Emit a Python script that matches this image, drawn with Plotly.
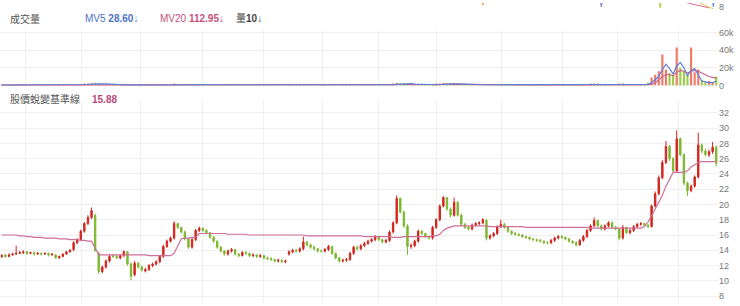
import plotly.graph_objects as go

# ---- daily OHLC (price) ----
close = [
    13.3, 13.2, 13.4, 13.5, 13.6, 13.7, 13.8, 13.6, 13.7, 13.5,
    13.6, 13.5, 13.6, 13.4, 13.5, 13.0, 13.2, 13.5, 13.8, 14.0,
    15.0, 15.4, 16.5, 17.5, 18.3, 19.2, 14.0, 11.2, 11.8, 12.6,
    13.2, 13.2, 13.0, 13.3, 13.8, 12.2, 10.6, 12.3, 11.8, 11.4,
    11.5, 12.0, 12.2, 12.5, 13.2, 14.5, 15.2, 15.6, 17.5, 17.0,
    16.4, 15.5, 14.4, 15.4, 16.6, 16.9, 16.6, 16.3, 15.7, 15.2,
    14.4, 13.9, 13.5, 13.9, 14.1, 13.5, 13.3, 13.7, 13.6, 13.3,
    13.4, 13.2, 13.3, 13.0, 12.9, 12.8, 12.6, 12.7, 12.5, 12.6,
    13.8, 14.0, 13.9, 14.2, 15.1, 14.7, 14.4, 14.2, 13.9, 13.9,
    14.1, 14.5, 13.6, 13.0, 12.6, 12.7, 12.8, 13.6, 14.4, 14.2,
    14.6, 14.9, 15.2, 15.4, 15.8, 15.4, 15.1, 15.3, 16.4, 17.6,
    20.8, 19.0, 17.2, 14.5, 14.6, 15.2, 16.5, 16.2, 15.8, 15.6,
    17.0, 18.0, 19.8, 20.9, 19.4, 18.6, 20.3, 18.6, 17.4, 17.0,
    16.8, 17.3, 17.5, 17.6, 18.0, 15.6, 15.9, 16.2, 17.1, 17.4,
    17.0, 16.5, 16.2, 16.1, 16.0, 15.8, 15.7, 15.5, 15.4, 15.3,
    15.2, 15.0, 15.0, 15.3, 15.6, 15.8, 15.7, 15.5, 15.2, 15.0,
    14.7, 15.3, 15.8, 16.6, 17.2, 17.9, 17.2, 16.8, 17.2, 17.6,
    17.0, 16.8, 15.6, 17.0, 16.3, 16.6, 17.1, 17.4, 17.5, 17.3,
    17.1, 19.8, 21.4, 23.5, 25.5, 27.6, 26.0, 24.4, 28.6, 26.5,
    22.8, 21.8, 22.4, 23.6, 27.8, 27.0, 26.5, 26.9, 27.5, 25.4,
]
open_ = [
    13.2, 13.4, 13.2, 13.4, 13.5, 13.6, 13.7, 13.8, 13.6, 13.7,
    13.5, 13.6, 13.5, 13.6, 13.4, 13.4, 13.0, 13.2, 13.5, 13.8,
    14.1, 15.0, 15.4, 16.5, 17.5, 18.3, 18.6, 13.6, 11.2, 11.8,
    12.6, 13.3, 13.2, 13.0, 13.3, 13.8, 12.2, 10.8, 12.3, 11.8,
    11.3, 11.5, 12.0, 12.2, 12.5, 13.2, 14.5, 15.2, 15.6, 17.5,
    17.0, 16.4, 15.5, 14.4, 15.4, 16.6, 16.9, 16.6, 16.3, 15.7,
    15.2, 14.4, 13.9, 13.5, 13.9, 14.1, 13.5, 13.3, 13.7, 13.6,
    13.3, 13.4, 13.2, 13.3, 13.0, 12.9, 12.8, 12.6, 12.7, 12.5,
    13.5, 13.8, 14.0, 13.9, 14.2, 15.1, 14.7, 14.4, 14.2, 13.9,
    13.9, 14.1, 14.5, 13.6, 13.0, 12.6, 12.7, 12.8, 13.6, 14.4,
    14.2, 14.6, 14.9, 15.2, 15.4, 15.8, 15.4, 15.1, 15.3, 16.4,
    17.6, 20.8, 19.0, 17.2, 14.5, 14.6, 15.2, 16.5, 16.2, 15.8,
    15.6, 17.0, 18.0, 19.8, 20.9, 19.4, 18.6, 20.3, 18.6, 17.4,
    17.0, 16.8, 17.3, 17.5, 17.6, 17.9, 15.6, 15.9, 16.2, 17.1,
    17.4, 17.0, 16.5, 16.2, 16.1, 16.0, 15.8, 15.7, 15.5, 15.4,
    15.3, 15.2, 15.0, 15.0, 15.3, 15.6, 15.8, 15.7, 15.5, 15.2,
    15.0, 14.7, 15.3, 15.8, 16.6, 17.2, 17.9, 17.2, 16.8, 17.2,
    17.6, 17.0, 16.8, 15.6, 17.0, 16.3, 16.6, 17.1, 17.4, 17.5,
    17.3, 17.1, 19.8, 21.4, 23.5, 25.5, 27.6, 26.0, 24.4, 28.6,
    26.5, 22.8, 21.8, 22.4, 23.6, 27.8, 27.0, 26.5, 26.9, 27.5,
]
high = [
    13.5, 13.5, 13.6, 13.7, 14.6, 13.9, 14.0, 13.9, 13.8, 13.8,
    13.8, 13.7, 13.7, 13.7, 13.6, 13.5, 13.3, 13.6, 13.9, 14.2,
    15.2, 15.6, 16.7, 17.7, 18.6, 19.6, 18.8, 13.8, 12.0, 12.8,
    13.4, 13.5, 13.4, 13.5, 14.0, 13.9, 12.4, 12.6, 12.5, 12.0,
    11.7, 12.2, 12.4, 12.7, 13.4, 14.7, 15.4, 15.8, 17.8, 17.6,
    17.1, 16.6, 15.6, 15.6, 16.8, 17.1, 17.0, 16.8, 16.4, 15.9,
    15.3, 14.6, 14.0, 14.1, 14.3, 14.2, 13.6, 13.9, 13.9, 13.7,
    13.6, 13.5, 13.5, 13.4, 13.2, 13.1, 12.9, 12.9, 12.8, 12.8,
    14.0, 14.2, 14.2, 14.4, 15.8, 15.2, 14.9, 14.6, 14.3, 14.1,
    14.3, 14.7, 14.6, 13.7, 13.1, 12.9, 13.0, 13.8, 14.6, 14.6,
    14.8, 15.1, 15.4, 15.6, 16.0, 15.9, 15.5, 15.5, 16.6, 17.8,
    21.2, 20.9, 19.2, 17.4, 14.9, 15.4, 16.7, 16.6, 16.3, 15.9,
    17.2, 18.2, 20.0, 21.1, 20.9, 19.6, 20.9, 20.4, 18.8, 17.6,
    17.2, 17.5, 17.7, 17.8, 18.2, 18.1, 16.1, 16.4, 17.3, 18.0,
    17.6, 17.1, 16.6, 16.4, 16.2, 16.1, 15.9, 15.8, 15.6, 15.5,
    15.5, 15.3, 15.2, 15.5, 15.8, 16.0, 16.0, 15.8, 15.6, 15.3,
    15.2, 15.5, 16.0, 16.8, 17.4, 18.3, 18.0, 17.4, 17.4, 17.8,
    17.8, 17.2, 16.9, 17.3, 17.1, 16.8, 17.3, 17.6, 17.7, 17.6,
    17.4, 20.0, 21.7, 23.8, 25.8, 28.3, 27.8, 26.2, 29.7, 28.8,
    26.7, 23.0, 22.6, 23.8, 29.4, 28.0, 27.3, 27.2, 28.2, 27.7,
]
low = [
    13.0, 13.0, 13.1, 13.3, 13.4, 13.5, 13.5, 13.4, 13.5, 13.3,
    13.4, 13.3, 13.4, 13.2, 13.3, 12.9, 12.9, 13.1, 13.4, 13.7,
    13.9, 14.8, 15.2, 16.3, 17.3, 18.1, 13.8, 10.9, 11.0, 11.6,
    12.4, 13.0, 12.9, 12.8, 13.1, 12.0, 10.1, 10.6, 11.6, 11.2,
    11.1, 11.3, 11.8, 12.0, 12.3, 13.0, 14.3, 15.0, 15.4, 16.8,
    16.2, 15.3, 14.2, 14.2, 15.2, 16.4, 16.4, 16.1, 15.5, 15.0,
    14.2, 13.7, 13.3, 13.3, 13.7, 13.3, 13.1, 13.2, 13.4, 13.1,
    13.1, 13.0, 13.0, 12.8, 12.7, 12.6, 12.4, 12.4, 12.3, 12.3,
    13.3, 13.6, 13.7, 13.7, 14.0, 14.5, 14.2, 14.0, 13.7, 13.7,
    13.7, 13.9, 13.4, 12.8, 12.4, 12.4, 12.5, 12.6, 13.4, 14.0,
    14.0, 14.4, 14.7, 15.0, 15.2, 15.2, 14.9, 14.9, 15.1, 16.2,
    17.4, 18.8, 16.9, 13.4, 14.2, 14.4, 15.0, 16.0, 15.6, 15.4,
    15.4, 16.8, 17.8, 19.6, 19.2, 18.3, 18.4, 18.4, 17.2, 16.8,
    16.6, 16.6, 17.1, 17.3, 17.4, 15.3, 15.4, 15.7, 16.0, 16.9,
    16.8, 16.3, 16.0, 15.9, 15.8, 15.6, 15.5, 15.3, 15.2, 15.1,
    15.0, 14.8, 14.8, 14.8, 15.1, 15.4, 15.5, 15.3, 15.0, 14.8,
    14.5, 14.6, 15.1, 15.6, 16.4, 17.0, 17.0, 16.6, 16.6, 17.0,
    16.8, 16.6, 15.3, 15.4, 16.1, 16.1, 16.4, 16.9, 17.2, 17.1,
    16.9, 17.0, 19.6, 21.2, 23.3, 25.3, 25.7, 24.2, 24.2, 26.3,
    22.5, 21.1, 21.6, 22.2, 23.4, 26.7, 26.3, 26.2, 26.6, 25.0,
]

# ---- 股價蛻變基準線 ----
baseline = [
    16.0, 16.0, 16.0, 16.0, 16.0, 15.9, 15.9, 15.8, 15.8, 15.7,
    15.7, 15.7, 15.6, 15.6, 15.6, 15.6, 15.5, 15.5, 15.5, 15.4,
    15.4, 15.4, 15.3, 15.3, 15.2, 15.2, 14.3, 13.4, 13.4, 13.4,
    13.4, 13.4, 13.4, 13.4, 13.4, 13.4, 13.4, 13.4, 13.4, 13.4,
    13.4, 13.3, 13.3, 13.3, 13.3, 13.3, 13.3, 13.3, 13.6, 14.6,
    15.5, 15.6, 15.6, 15.7, 15.7, 16.2, 16.2, 16.2, 16.2, 16.2,
    16.2, 16.2, 16.2, 16.1, 16.1, 16.1, 16.1, 16.1, 16.1, 16.0,
    16.0, 16.0, 16.0, 16.0, 16.0, 16.0, 16.0, 16.0, 16.0, 16.0,
    16.0, 16.0, 16.0, 16.0, 16.0, 15.9, 15.9, 15.9, 15.9, 15.9,
    15.9, 15.9, 15.9, 15.9, 15.9, 15.9, 15.9, 15.9, 15.9, 15.9,
    15.9, 15.8, 15.8, 15.8, 15.8, 15.8, 15.8, 15.8, 15.8, 15.7,
    15.7, 15.7, 15.8, 15.8, 15.8, 15.8, 15.8, 15.8, 15.8, 15.8,
    15.9, 15.9, 16.1, 16.6, 16.9, 17.1, 17.2, 17.2, 17.2, 17.2,
    17.2, 17.2, 17.2, 17.2, 17.2, 17.2, 17.1, 17.1, 17.1, 17.1,
    17.1, 17.1, 17.1, 17.1, 17.1, 17.1, 17.0, 17.0, 17.0, 17.0,
    17.0, 17.0, 17.0, 17.0, 17.0, 17.0, 17.0, 17.0, 17.0, 17.0,
    17.0, 17.0, 17.0, 17.0, 16.9, 16.9, 16.9, 16.9, 16.9, 16.9,
    16.9, 16.9, 16.9, 16.9, 16.9, 16.9, 16.9, 16.9, 16.9, 17.1,
    17.7, 18.5, 19.4, 20.3, 21.2, 22.4, 23.3, 24.2, 24.2, 24.2,
    24.2, 24.4, 24.9, 25.2, 25.5, 25.6, 25.6, 25.6, 25.6, 25.6,
]

# ---- 成交量 (thousands) with MV5 / MV20 ----
volume = [
    0.4, 0.3, 0.5, 0.4, 0.8, 0.4, 0.3, 0.3, 0.4, 0.3,
    0.3, 0.3, 0.4, 0.3, 0.3, 0.5, 0.4, 0.3, 0.4, 0.5,
    0.8, 0.7, 1.0, 1.2, 1.5, 2.2, 2.6, 1.8, 0.9, 0.6,
    0.4, 0.3, 0.3, 0.4, 0.5, 0.6, 0.9, 0.7, 0.5, 0.4,
    0.3, 0.3, 0.4, 0.4, 0.5, 0.8, 0.7, 0.6, 1.1, 0.8,
    0.6, 0.7, 0.9, 0.6, 0.8, 1.0, 0.7, 0.5, 0.5, 0.4,
    0.5, 0.4, 0.4, 0.3, 0.3, 0.4, 0.3, 0.3, 0.3, 0.3,
    0.3, 0.3, 0.3, 0.3, 0.3, 0.3, 0.3, 0.3, 0.3, 0.3,
    0.6, 0.5, 0.4, 0.5, 0.8, 0.5, 0.4, 0.3, 0.3, 0.3,
    0.3, 0.4, 0.5, 0.5, 0.4, 0.3, 0.3, 0.5, 0.6, 0.4,
    0.5, 0.5, 0.5, 0.6, 0.7, 0.5, 0.4, 0.4, 0.9, 1.4,
    2.8, 2.2, 1.6, 1.9, 0.9, 0.6, 0.8, 0.6, 0.5, 0.5,
    0.9, 1.2, 1.8, 2.6, 1.9, 1.3, 1.9, 1.4, 0.8, 0.6,
    0.5, 0.5, 0.5, 0.6, 0.7, 1.0, 0.6, 0.5, 0.7, 0.8,
    0.5, 0.4, 0.4, 0.3, 0.3, 0.3, 0.3, 0.3, 0.3, 0.3,
    0.3, 0.3, 0.3, 0.3, 0.4, 0.4, 0.3, 0.3, 0.3, 0.3,
    0.5, 0.4, 0.6, 0.9, 1.2, 1.6, 1.1, 0.7, 0.9, 1.0,
    0.8, 0.9, 1.4, 1.3, 0.8, 0.6, 0.7, 0.7, 0.6, 0.7,
    3.0, 9.0, 12.0, 16.0, 35.0, 18.0, 14.0, 12.0, 43.0, 20.0,
    16.0, 12.0, 43.0, 15.0, 18.0, 6.0, 4.0, 5.0, 3.0, 10.0,
]
mv5 = [
    0.4, 0.4, 0.4, 0.4, 0.5, 0.5, 0.4, 0.4, 0.4, 0.3,
    0.3, 0.3, 0.3, 0.3, 0.3, 0.4, 0.4, 0.4, 0.4, 0.4,
    0.5, 0.5, 0.7, 0.8, 1.0, 1.3, 1.7, 1.9, 1.8, 1.6,
    1.3, 0.9, 0.6, 0.4, 0.4, 0.4, 0.5, 0.6, 0.6, 0.6,
    0.6, 0.5, 0.4, 0.4, 0.4, 0.5, 0.5, 0.6, 0.7, 0.8,
    0.8, 0.8, 0.8, 0.8, 0.7, 0.8, 0.8, 0.7, 0.7, 0.6,
    0.5, 0.5, 0.4, 0.4, 0.4, 0.4, 0.3, 0.3, 0.3, 0.3,
    0.3, 0.3, 0.3, 0.3, 0.3, 0.3, 0.3, 0.3, 0.3, 0.3,
    0.4, 0.4, 0.4, 0.5, 0.6, 0.5, 0.5, 0.5, 0.4, 0.3,
    0.3, 0.3, 0.4, 0.4, 0.4, 0.4, 0.4, 0.4, 0.4, 0.4,
    0.5, 0.5, 0.5, 0.5, 0.6, 0.6, 0.5, 0.5, 0.6, 0.7,
    1.2, 1.5, 1.7, 2.0, 1.9, 1.4, 1.2, 0.9, 0.7, 0.6,
    0.7, 0.7, 1.0, 1.4, 1.7, 1.8, 1.8, 1.7, 1.5, 1.2,
    0.9, 0.7, 0.6, 0.5, 0.6, 0.7, 0.7, 0.7, 0.7, 0.7,
    0.7, 0.6, 0.5, 0.5, 0.4, 0.3, 0.3, 0.3, 0.3, 0.3,
    0.3, 0.3, 0.3, 0.3, 0.3, 0.3, 0.3, 0.3, 0.3, 0.3,
    0.3, 0.4, 0.4, 0.5, 0.7, 1.0, 1.0, 1.0, 1.0, 1.0,
    0.9, 0.9, 1.0, 1.1, 1.0, 1.0, 0.9, 0.8, 0.7, 0.7,
    1.0, 3.0, 6.0, 10.0, 18.0, 24.0, 19.0, 13.0, 22.0, 26.0,
    20.0, 11.0, 17.0, 19.0, 12.0, 5.0, 4.0, 3.0, 3.0, 5.0,
]
mv20 = [
    0.4, 0.4, 0.4, 0.4, 0.4, 0.4, 0.4, 0.4, 0.4, 0.4,
    0.4, 0.4, 0.4, 0.4, 0.4, 0.4, 0.4, 0.4, 0.4, 0.4,
    0.5, 0.5, 0.5, 0.6, 0.6, 0.7, 0.8, 0.9, 0.9, 0.9,
    0.9, 0.9, 0.9, 0.9, 0.9, 0.9, 0.9, 0.9, 0.9, 0.9,
    0.9, 0.9, 0.8, 0.7, 0.6, 0.6, 0.6, 0.6, 0.6, 0.6,
    0.6, 0.6, 0.6, 0.7, 0.7, 0.7, 0.7, 0.7, 0.7, 0.7,
    0.7, 0.7, 0.7, 0.6, 0.6, 0.6, 0.5, 0.5, 0.5, 0.4,
    0.4, 0.4, 0.4, 0.4, 0.4, 0.4, 0.4, 0.4, 0.4, 0.4,
    0.4, 0.4, 0.4, 0.4, 0.4, 0.4, 0.4, 0.4, 0.4, 0.4,
    0.4, 0.4, 0.4, 0.4, 0.4, 0.4, 0.4, 0.4, 0.4, 0.4,
    0.4, 0.4, 0.4, 0.4, 0.5, 0.5, 0.5, 0.5, 0.5, 0.5,
    0.6, 0.7, 0.8, 0.9, 0.9, 0.9, 0.9, 0.9, 1.0, 1.0,
    1.0, 1.0, 1.1, 1.2, 1.3, 1.3, 1.3, 1.3, 1.3, 1.3,
    1.2, 1.1, 1.0, 1.0, 1.0, 1.0, 0.9, 0.8, 0.7, 0.7,
    0.6, 0.6, 0.6, 0.6, 0.5, 0.5, 0.5, 0.5, 0.4, 0.4,
    0.4, 0.4, 0.4, 0.4, 0.4, 0.4, 0.4, 0.4, 0.4, 0.4,
    0.4, 0.4, 0.4, 0.4, 0.5, 0.5, 0.5, 0.6, 0.6, 0.6,
    0.6, 0.7, 0.7, 0.7, 0.7, 0.7, 0.7, 0.7, 0.7, 0.7,
    0.8, 1.5, 3.0, 6.0, 10.0, 12.0, 12.0, 11.0, 15.0, 17.0,
    16.0, 14.0, 16.0, 17.0, 16.0, 14.0, 12.0, 10.0, 9.0, 8.0,
]

# ---- lower tail of the oscillator panel above the volume pane ----
osc_orange_x = [133.5, 134.0, 134.5]
osc_orange_y = [9.0, 8.15, 9.0]
osc_blue_x = [166.5, 167.0, 167.5, 197.8, 198.2, 198.6]
osc_blue_y = [9.0, 8.0, 9.0, 9.0, 8.0, 9.0]
osc_green_x = [183.0, 183.4, 183.8]
osc_green_y = [9.0, 7.9, 9.0]
osc_pink_x = [190.5, 194.0, 197.0]
osc_pink_y = [8.45, 8.15, 7.9]
osc_yellow_x = [194.0, 196.5, 198.2]
osc_yellow_y = [8.45, 8.1, 7.8]

# month boundaries (trading-day index) used as vertical grid lines
month_breaks = [6.5, 22.3, 38.5, 55.8, 72.8, 89.2, 104.8, 121.2, 139.1, 156.3, 171.6, 188.4]
price_ticks = [8, 10, 12, 14, 16, 18, 20, 22, 24, 26, 28, 30, 32]
vol_ticks = [0, 20, 40, 60]
vol_tick_text = ["0", "20k", "40k", "60k"]

RED = "#d1261f"
GREEN = "#7db830"
VOL_RED = "#ee7a68"
VOL_GREEN = "#9ccc4a"
MV5_COLOR = "#5d7fd8"
MV20_COLOR = "#d0648f"
BASE_COLOR = "#cf6f9a"
GRID = "#efefef"
TICK_FONT = dict(family="Liberation Sans, Arial, sans-serif", size=9, color="#777777")
FONT = "Liberation Sans, Arial, Noto Sans CJK TC, sans-serif"

idx = list(range(len(close)))
n = len(close)

fig = go.Figure()

fig.add_trace(go.Candlestick(
    x=idx, open=open_, high=high, low=low, close=close,
    increasing=dict(line=dict(color=RED, width=1), fillcolor=RED),
    decreasing=dict(line=dict(color=GREEN, width=1), fillcolor=GREEN),
    whiskerwidth=0, xaxis="x", yaxis="y", showlegend=False, hoverinfo="skip",
))
fig.add_trace(go.Scatter(
    x=idx, y=baseline, mode="lines", line=dict(color=BASE_COLOR, width=1.2),
    xaxis="x", yaxis="y", showlegend=False, hoverinfo="skip",
))

bar_colors = [VOL_RED if c >= o else VOL_GREEN for o, c in zip(open_, close)]
fig.add_trace(go.Bar(
    x=idx, y=volume, marker=dict(color=bar_colors, line=dict(width=0)), width=0.6,
    xaxis="x2", yaxis="y2", showlegend=False, hoverinfo="skip",
))
fig.add_trace(go.Scatter(
    x=idx, y=mv20, mode="lines", line=dict(color=MV20_COLOR, width=1.2),
    xaxis="x2", yaxis="y2", showlegend=False, hoverinfo="skip",
))
fig.add_trace(go.Scatter(
    x=idx, y=mv5, mode="lines", line=dict(color=MV5_COLOR, width=1.2),
    xaxis="x2", yaxis="y2", showlegend=False, hoverinfo="skip",
))

for xs, ys, col in [
    (osc_orange_x, osc_orange_y, "#f0a548"),
    (osc_blue_x, osc_blue_y, "#6c82d8"),
    (osc_green_x, osc_green_y, "#b9c83a"),
    (osc_pink_x, osc_pink_y, "#d86aa0"),
    (osc_yellow_x, osc_yellow_y, "#eac64a"),
]:
    fig.add_trace(go.Scatter(
        x=xs, y=ys, mode="lines", line=dict(color=col, width=1),
        xaxis="x3", yaxis="y3", showlegend=False, hoverinfo="skip",
    ))

x_common = dict(
    range=[-0.5, n - 0.5], tickvals=month_breaks, showticklabels=False,
    showgrid=True, gridcolor=GRID, gridwidth=1, zeroline=False, ticks="",
    showline=False, fixedrange=True,
)
y_common = dict(
    side="right", showgrid=True, gridcolor=GRID, gridwidth=1, zeroline=False,
    ticks="", showline=False, tickfont=TICK_FONT, fixedrange=True,
)

H = 306.0


def frac(px):
    return (H - px) / H


fig.update_layout(
    width=740, height=306,
    margin=dict(l=0, r=22, t=0, b=0),
    paper_bgcolor="white", plot_bgcolor="white",
    font=dict(family=FONT, size=10, color="#555555"),
    xaxis=dict(**x_common, anchor="y", domain=[0, 1], rangeslider=dict(visible=False)),
    yaxis=dict(**y_common, anchor="x", domain=[0, frac(100)], range=[7.1, 33.54],
               tickvals=price_ticks),
    xaxis2=dict(**x_common, anchor="y2", domain=[0, 1]),
    yaxis2=dict(**y_common, anchor="x2", domain=[frac(86), frac(28)], range=[-2.2, 62.2],
                tickvals=vol_ticks, ticktext=vol_tick_text),
    xaxis3=dict(range=[-0.5, n - 0.5], showticklabels=False, showgrid=False,
                zeroline=False, ticks="", anchor="y3", domain=[0, 1], fixedrange=True),
    yaxis3=dict(side="right", anchor="x3", domain=[frac(9), 1], range=[7.5, 8.4],
                tickvals=[8], showgrid=False, zeroline=False, ticks="",
                tickfont=TICK_FONT, fixedrange=True),
    bargap=0.3,
    boxgap=0.45,
)

PW = 718.0
labels = [
    ("成交量", 8, 16, "#555555"),
    ("MV5 <b>28.60</b>↓", 83, 16, "#4d73c9"),
    ("MV20 <b>112.95</b>↓", 158, 16, "#c4527c"),
    ("量<b>10</b>↓", 234, 16, "#444444"),
    ("股價蛻變基準線", 8, 98, "#555555"),
    ("<b>15.88</b>", 90, 98, "#b54c7c"),
]
for text, px, py, col in labels:
    fig.add_annotation(
        text=text, xref="paper", yref="paper", x=px / PW, y=frac(py),
        xanchor="left", yanchor="middle", showarrow=False,
        font=dict(family=FONT, size=10, color=col),
    )

fig.write_html("out.html")
